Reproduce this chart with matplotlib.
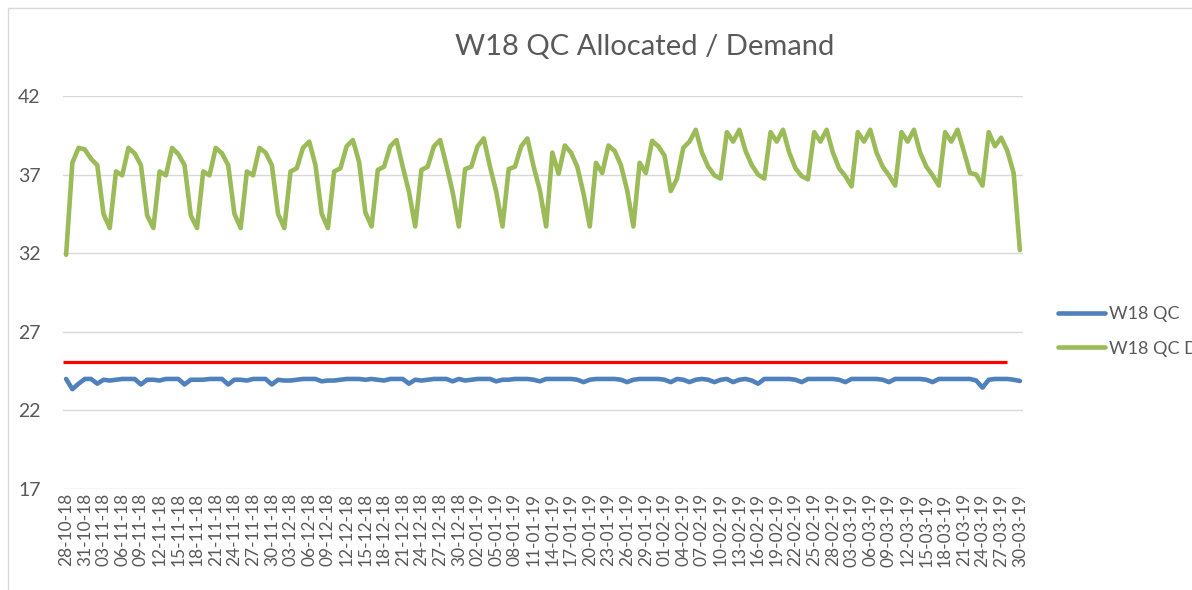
import matplotlib
matplotlib.use("Agg")
import matplotlib.pyplot as plt
import pandas as pd
from matplotlib.patches import Rectangle

plt.rcParams["font.family"] = ["Lato", "DejaVu Sans"]

INK = "#595959"
GRID = "#d9d9d9"
COLOR_QC = "#4f81bd"
COLOR_DEMAND = "#9bbb59"
COLOR_LIMIT = "#ff0000"

# one category per day, labelled dd-mm-yy
dates = pd.date_range("2018-10-28", "2019-03-30", freq="D")
date_labels = list(dates.strftime("%d-%m-%y"))

qc_allocated = [
    24.0, 23.35, 23.7, 24.0, 24.0, 23.7, 23.95, 23.9, 23.95, 24.0,
    24.0, 24.0, 23.65, 23.95, 23.95, 23.9, 24.0, 24.0, 24.0, 23.65,
    23.95, 23.95, 23.95, 24.0, 24.0, 24.0, 23.65, 23.95, 23.95, 23.9,
    24.0, 24.0, 24.0, 23.65, 23.95, 23.9, 23.9, 23.95, 24.0, 24.0,
    24.0, 23.85, 23.9, 23.9, 23.95, 24.0, 24.0, 24.0, 23.95, 24.0,
    23.95, 23.9, 24.0, 24.0, 24.0, 23.7, 23.95, 23.9, 23.95, 24.0,
    24.0, 24.0, 23.85, 24.0, 23.9, 23.95, 24.0, 24.0, 24.0, 23.85,
    23.95, 23.95, 24.0, 24.0, 24.0, 23.95, 23.85, 24.0, 24.0, 24.0,
    24.0, 24.0, 23.95, 23.8, 23.95, 24.0, 24.0, 24.0, 24.0, 23.95,
    23.8, 23.95, 24.0, 24.0, 24.0, 24.0, 23.95, 23.8, 24.0, 23.95,
    23.8, 23.95, 24.0, 23.95, 23.8, 23.95, 24.0, 23.8, 23.95, 24.0,
    23.9, 23.7, 24.0, 24.0, 24.0, 24.0, 24.0, 23.95, 23.8, 24.0,
    24.0, 24.0, 24.0, 24.0, 23.95, 23.8, 24.0, 24.0, 24.0, 24.0,
    24.0, 23.95, 23.8, 24.0, 24.0, 24.0, 24.0, 24.0, 23.95, 23.8,
    24.0, 24.0, 24.0, 24.0, 24.0, 24.0, 23.9, 23.45, 23.95, 24.0,
    24.0, 24.0, 23.95, 23.87,
]

qc_demand = [
    31.9, 37.75, 38.7, 38.6, 38.0, 37.6, 34.5, 33.6, 37.2, 36.95,
    38.7, 38.35, 37.6, 34.4, 33.6, 37.2, 36.95, 38.7, 38.3, 37.6,
    34.4, 33.6, 37.2, 36.95, 38.7, 38.35, 37.6, 34.5, 33.6, 37.2,
    36.95, 38.7, 38.4, 37.6, 34.5, 33.6, 37.2, 37.4, 38.7, 39.1,
    37.6, 34.5, 33.6, 37.2, 37.4, 38.8, 39.2, 37.8, 34.6, 33.7,
    37.3, 37.5, 38.8, 39.2, 37.5, 35.9, 33.7, 37.3, 37.5, 38.8,
    39.2, 37.6, 35.9, 33.7, 37.35, 37.5, 38.8, 39.3, 37.5, 35.9,
    33.7, 37.35, 37.5, 38.8, 39.3, 37.5, 36.0, 33.7, 38.4, 37.05,
    38.85, 38.4, 37.5, 35.8, 33.7, 37.75, 37.1, 38.85, 38.5, 37.6,
    36.0, 33.7, 37.75, 37.1, 39.15, 38.8, 38.2, 35.95, 36.75, 38.7,
    39.1, 39.85, 38.4, 37.5, 36.95, 36.75, 39.7, 39.1, 39.85, 38.5,
    37.6, 37.0, 36.75, 39.7, 39.1, 39.85, 38.4, 37.4, 36.9, 36.7,
    39.7, 39.1, 39.85, 38.4, 37.4, 36.9, 36.25, 39.7, 39.1, 39.85,
    38.4, 37.5, 36.95, 36.3, 39.7, 39.1, 39.85, 38.4, 37.5, 36.95,
    36.3, 39.7, 39.1, 39.85, 38.5, 37.1, 37.0, 36.3, 39.7, 38.8,
    39.35, 38.5, 37.1, 32.2,
]

limit_value = 25.1
limit_last_day = 151

y_ticks = [17, 22, 27, 32, 37, 42]

W, H = 1192, 590
fig = plt.figure(figsize=(W / 100, H / 100), dpi=100)
fig.patch.set_facecolor("white")

# chart-area border (cropped on the right and bottom in the original)
fig.add_artist(Rectangle((8 / W, -0.05), 1.2, 1 - 8 / H + 0.05,
                         transform=fig.transFigure, fill=False,
                         edgecolor=GRID, linewidth=1))

ax = fig.add_axes([63 / W, 1 - 489 / H, 960 / W, 393 / H])
x = list(range(len(date_labels)))

ax.plot([-0.5, limit_last_day], [limit_value, limit_value],
        color=COLOR_LIMIT, linewidth=2.3, solid_capstyle="butt", zorder=3)
line_qc, = ax.plot(x, qc_allocated, color=COLOR_QC, linewidth=3.3,
                   solid_joinstyle="round", solid_capstyle="round",
                   label="W18 QC", zorder=4)
line_demand, = ax.plot(x, qc_demand, color=COLOR_DEMAND, linewidth=3.3,
                       solid_joinstyle="round", solid_capstyle="round",
                       label="W18 QC Demand", zorder=4)

ax.set_xlim(-0.5, len(x) - 0.5)
ax.set_ylim(17, 42)
ax.set_yticks(y_ticks)
ax.set_xticks(x[::3])
ax.set_xticklabels(date_labels[::3], rotation=90)
ax.grid(True, axis="y", color=GRID, linewidth=1)
ax.set_axisbelow(True)
for spine in ax.spines.values():
    spine.set_visible(False)
ax.tick_params(axis="y", length=0, pad=16, labelsize=14, labelcolor=INK)
ax.tick_params(axis="x", length=0, pad=3, labelsize=12.5, labelcolor=INK)

fig.text(645 / W, 1 - 47 / H, "W18 QC Allocated / Demand", ha="center",
         va="center", fontsize=21, color=INK)

ax.legend(handles=[line_qc, line_demand], loc="center left",
          bbox_to_anchor=(1058 / W, 1 - 331.5 / H), bbox_transform=fig.transFigure,
          frameon=False, borderpad=0, borderaxespad=0, handlelength=2.6,
          handletextpad=0.25, labelspacing=1.0, fontsize=13, labelcolor=INK)

fig.savefig("out.png", dpi=100, facecolor="white")
